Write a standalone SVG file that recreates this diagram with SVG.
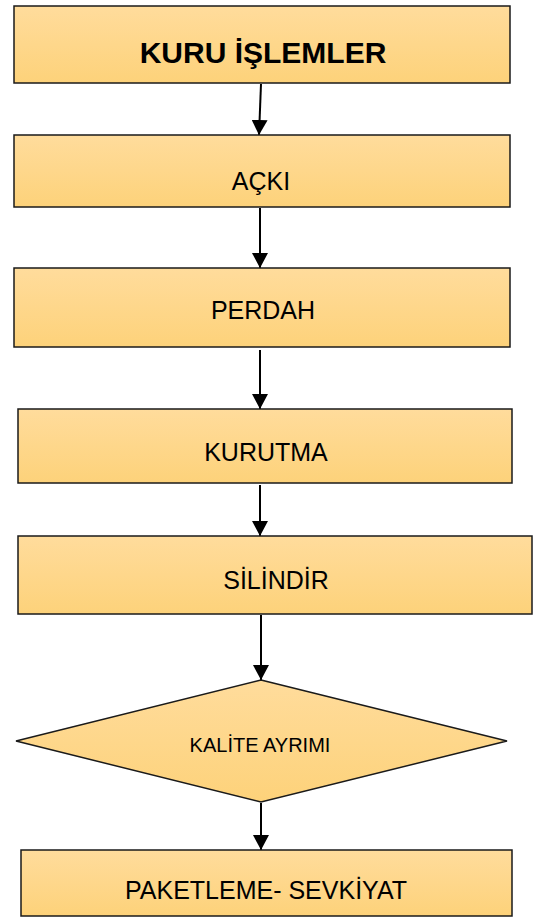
<svg xmlns="http://www.w3.org/2000/svg" width="538" height="917" viewBox="0 0 538 917">
<style>
.node{fill:url(#g);stroke:#1a1a1a;stroke-width:1.5}
.t{font-family:"Liberation Sans",Arial,sans-serif;fill:#000;text-anchor:middle;font-size:25px}
.c{stroke:#000;stroke-width:2;fill:none;marker-end:url(#ah)}
</style>
<defs>
<linearGradient id="g" x1="0" y1="0" x2="0" y2="1">
<stop offset="0" stop-color="#FFDC9C"/>
<stop offset="1" stop-color="#FDD27A"/>
</linearGradient>
<marker id="ah" markerUnits="userSpaceOnUse" markerWidth="16" markerHeight="16" viewBox="0 0 16 16" refX="15" refY="8" orient="auto">
<path d="M0,0 L15,8 L0,16 Z" fill="#000"/>
</marker>
</defs>
<rect width="538" height="917" fill="#fff"/>
<g id="connectors">
<path class="c" d="M261,84 L259,135"/>
<path class="c" d="M260,208 L260,268"/>
<path class="c" d="M260,350 L260,409"/>
<path class="c" d="M260,485 L260,536"/>
<path class="c" d="M261,615 L261,680"/>
<path class="c" d="M261,803 L261,850"/>
</g>
<g id="n1"><rect class="node" x="14" y="6" width="496" height="77"/><text class="t" x="263" y="63" style="font-size:30px" font-weight="bold">KURU İŞLEMLER</text></g>
<g id="n2"><rect class="node" x="14" y="135" width="496" height="72"/><text class="t" x="261" y="190">AÇKI</text></g>
<g id="n3"><rect class="node" x="14" y="268" width="496" height="79"/><text class="t" x="263" y="319">PERDAH</text></g>
<g id="n4"><rect class="node" x="18" y="409" width="494" height="74"/><text class="t" x="266" y="461">KURUTMA</text></g>
<g id="n5"><rect class="node" x="18" y="536" width="514" height="78"/><text class="t" x="276" y="589">SİLİNDİR</text></g>
<g id="n6"><polygon class="node" points="261,680 507,741 261,802 16,741"/><text class="t" x="260" y="752" style="font-size:20px">KALİTE AYRIMI</text></g>
<g id="n7"><rect class="node" x="21" y="850" width="491" height="66"/><text class="t" x="266" y="899">PAKETLEME- SEVKİYAT</text></g>
</svg>
